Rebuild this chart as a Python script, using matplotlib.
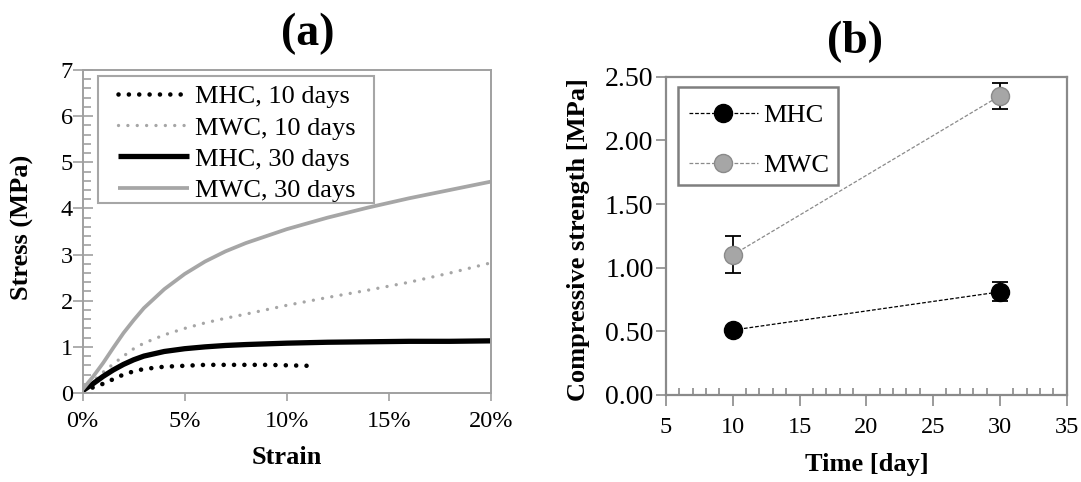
import matplotlib
matplotlib.use("Agg")
import matplotlib.pyplot as plt
from matplotlib.patches import Rectangle
from matplotlib.ticker import MultipleLocator, FuncFormatter

plt.rcParams['font.family'] = ['Liberation Serif', 'DejaVu Serif']

# ---- (a) stress-strain curves ----
strain = [0, 0.5, 1, 1.5, 2, 2.5, 3, 4, 5, 6, 7, 8, 10, 12, 14, 16, 18, 20]   # %
mwc30 = [0.08, 0.35, 0.65, 0.98, 1.30, 1.58, 1.84, 2.25, 2.58, 2.85, 3.07, 3.25, 3.55, 3.80, 4.02, 4.22, 4.40, 4.58]
mwc10 = [0.05, 0.25, 0.45, 0.63, 0.80, 0.96, 1.08, 1.26, 1.40, 1.52, 1.62, 1.71, 1.90, 2.07, 2.23, 2.40, 2.60, 2.82]
mhc30 = [0.05, 0.20, 0.36, 0.50, 0.62, 0.72, 0.80, 0.90, 0.96, 1.00, 1.03, 1.05, 1.08, 1.10, 1.11, 1.12, 1.12, 1.13]
strain_mhc10 = [0, 0.5, 1, 1.5, 2, 2.5, 3, 4, 5, 6, 7, 8, 9, 10, 11]
mhc10 = [0.05, 0.12, 0.20, 0.30, 0.40, 0.47, 0.52, 0.57, 0.59, 0.61, 0.61, 0.61, 0.61, 0.60, 0.59]

# ---- (b) compressive strength vs time ----
days = [10, 30]
mhc_strength = [0.51, 0.81]
mhc_err = [0.02, 0.075]
mwc_strength = [1.10, 2.35]
mwc_err = [0.145, 0.10]

W, H = 1081, 482
fig = plt.figure(figsize=(W / 100, H / 100), dpi=100)

def fx(px):
    return px / W

def fy(py):
    return 1 - py / H

def box(x0, y0, x1, y1, color, lw):
    # legend frame drawn in pixel positions of the figure
    fig.add_artist(Rectangle((fx(x0), fy(y1)), fx(x1) - fx(x0), fy(y0) - fy(y1),
                             transform=fig.transFigure, fill=False, ec=color, lw=lw))

LIGHT = '#a6a6a6'
TICK_FS = 17.5
LABEL_FS = 19
TITLE_FS = 33

# ---------------- panel (a) ----------------
axa = fig.add_axes([fx(82.7), fy(393), (490.7 - 82.7) / W, (393 - 70) / H])
axa.plot(strain_mhc10, mhc10, color='black', lw=3.3, linestyle=(0, (0.01, 2.25)),
         dash_capstyle='round', label='MHC, 10 days')
axa.plot(strain, mwc10, color=LIGHT, lw=2.4, linestyle=(0, (0.01, 2.8)),
         dash_capstyle='round', label='MWC, 10 days')
axa.plot(strain, mhc30, color='black', lw=3.8, solid_capstyle='butt', label='MHC, 30 days')
axa.plot(strain, mwc30, color=LIGHT, lw=2.7, solid_capstyle='butt', label='MWC, 30 days')
axa.set_xlim(0, 20)
axa.set_ylim(0, 7)
axa.xaxis.set_major_locator(MultipleLocator(5))
axa.xaxis.set_major_formatter(FuncFormatter(lambda v, p: f"{v:.0f}%"))
axa.yaxis.set_major_locator(MultipleLocator(1))
axa.yaxis.set_minor_locator(MultipleLocator(0.2))
for s in axa.spines.values():
    s.set_color('#a0a0a0')
    s.set_linewidth(1.4)
axa.tick_params(axis='x', which='major', direction='out', length=6, width=1.2,
                color='#a0a0a0', labelsize=TICK_FS, pad=7)
axa.tick_params(axis='y', which='major', direction='inout', length=14, width=1.2,
                color='#a0a0a0', labelsize=TICK_FS, pad=0)
axa.tick_params(axis='y', which='minor', direction='in', length=6, width=1.2, color='#a0a0a0')
axa.legend(loc='upper left', bbox_to_anchor=(fx(118), fy(85)),
           bbox_transform=fig.transFigure, borderaxespad=0, borderpad=0, fontsize=LABEL_FS,
           frameon=False, handlelength=2.7, handletextpad=0.2, labelspacing=0.29)
box(98, 76, 374, 203, LIGHT, 1.5)
fig.text(fx(308), fy(34), '(a)', ha='center', va='center', fontsize=TITLE_FS, fontweight='bold')
fig.text(fx(287), fy(457), 'Strain', ha='center', va='center', fontsize=LABEL_FS, fontweight='bold')
fig.text(fx(22.5), fy(227), 'Stress (MPa)', ha='center', va='center', rotation=90,
         fontsize=LABEL_FS, fontweight='bold')

# ---------------- panel (b) ----------------
DARK = '#8a8a8a'
axb = fig.add_axes([fx(666), fy(395), (1066.7 - 666) / W, (395 - 76.7) / H])
axb.errorbar(days, mhc_strength, yerr=mhc_err, fmt='none', ecolor='black',
             elinewidth=1.3, capsize=6, capthick=1.3, zorder=2)
axb.errorbar(days, mwc_strength, yerr=mwc_err, fmt='none', ecolor='black',
             elinewidth=1.3, capsize=6, capthick=1.3, zorder=2)
axb.plot(days, mhc_strength, color='black', lw=0.9, linestyle=(0, (3, 1.5)),
         marker='o', markersize=13, markerfacecolor='black', markeredgecolor='black',
         label='MHC', zorder=3)
axb.plot(days, mwc_strength, color=DARK, lw=0.9, linestyle=(0, (3, 1.5)),
         marker='o', markersize=13, markerfacecolor=LIGHT, markeredgecolor=DARK,
         label='MWC', zorder=3)
axb.set_xlim(5, 35)
axb.set_ylim(0, 2.5)
axb.xaxis.set_major_locator(MultipleLocator(5))
axb.xaxis.set_minor_locator(MultipleLocator(1))
axb.yaxis.set_major_locator(MultipleLocator(0.5))
axb.yaxis.set_major_formatter(FuncFormatter(lambda v, p: f"{v:.2f}"))
for s in axb.spines.values():
    s.set_color(DARK)
    s.set_linewidth(1.6)
axb.tick_params(axis='x', which='major', direction='out', length=8, width=1.2,
                color=DARK, labelsize=TICK_FS, pad=8)
axb.tick_params(axis='x', which='minor', direction='in', length=5, width=1.2, color=DARK)
axb.tick_params(axis='y', which='major', direction='out', length=7, width=1.2,
                color=DARK, labelsize=20, pad=2)
axb.legend(loc='upper left', bbox_to_anchor=(fx(689), fy(104)),
           bbox_transform=fig.transFigure, borderaxespad=0, borderpad=0, fontsize=LABEL_FS,
           frameon=False, handlelength=2.6, handletextpad=0.22, labelspacing=1.0)
box(678, 87, 838, 185, '#7f7f7f', 1.8)
fig.text(fx(855), fy(42), '(b)', ha='center', va='center', fontsize=TITLE_FS, fontweight='bold')
fig.text(fx(867), fy(465), 'Time [day]', ha='center', va='center', fontsize=LABEL_FS, fontweight='bold')
fig.text(fx(578), fy(240), 'Compressive strength [MPa]', ha='center', va='center', rotation=90,
         fontsize=LABEL_FS, fontweight='bold')

fig.savefig('out.png', dpi=100)
